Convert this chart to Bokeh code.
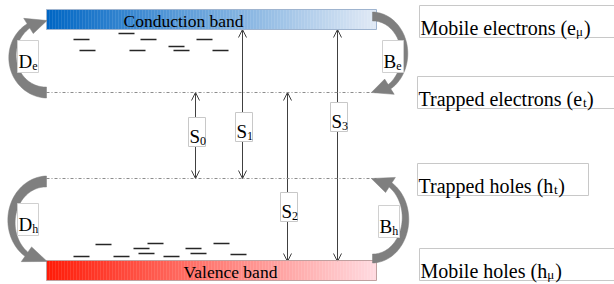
import numpy as np
from bokeh.plotting import figure
from bokeh.models import Range1d, Arrow, OpenHead
from bokeh.core.properties import value
from bokeh.embed import file_html
from bokeh.resources import INLINE

# ---------------- data (diagram coordinates in picture pixels) ----------------
band_x = [46, 376]
cond_band_y = [9, 29]
val_band_y = [260, 280]
trap_e_level = 92
trap_h_level = 178

e_trap_x = [73, 118, 140, 196, 79, 129, 168, 173, 212]
e_trap_y = [39, 33, 39, 39, 50, 50, 46, 50, 50]
h_trap_x = [73, 95, 113, 133, 147, 138, 163, 185, 190, 213, 230]
h_trap_y = [256, 244, 256, 248, 243, 253, 256, 248, 253, 243, 254]
trap_len = 16

s_names = ["0", "1", "2", "3"]
s_x = [195, 242, 287, 337]
s_from = [92, 29, 92, 29]
s_to = [178, 178, 261, 261]
s_box_top = [117, 112, 192, 102]

proc_main = ["D", "B", "D", "B"]
proc_sub = ["e", "e", "h", "h"]
proc_box_x = [17, 382, 17, 378]
proc_box_y = [40, 40, 203, 205]

state_main = ["Mobile electrons (e", "Trapped electrons (e", "Trapped holes (h", "Mobile holes (h"]
state_sub = ["\u03bc", "t", "t", "\u03bc"]
state_box_x = [419, 417, 417, 419]
state_box_y = [5, 76, 163, 248]
state_box_w = [200, 200, 171, 200]

FONT = value("Liberation Serif")
TDY = -6  # baseline correction for the text glyph
W = {'M': .889, 'o': .5, 'b': .5, 'i': .278, 'l': .278, 'e': .444, ' ': .25, 'c': .444,
     't': .278, 'r': .333, 'n': .5, 's': .389, '(': .333, ')': .333, 'T': .611, 'a': .444,
     'p': .5, 'd': .5, 'h': .5, 'D': .722, 'B': .667, 'S': .556, '\u03bc': .576,
     '0': .5, '1': .5, '2': .5, '3': .5}


def tw(s, size):
    return sum(W.get(c, .5) for c in s) * size


def lerp_colors(c0, c1, n):
    out = []
    for k in range(n):
        f = k / (n - 1)
        out.append("#%02x%02x%02x" % tuple(int(round(a + (b - a) * f)) for a, b in zip(c0, c1)))
    return out


p = figure(width=614, height=284, x_range=Range1d(0, 614), y_range=Range1d(284, 0),
           output_backend="svg", toolbar_location=None, min_border=0,
           x_axis_type=None, y_axis_type=None)
p.grid.visible = False
p.outline_line_color = None
p.background_fill_color = "white"
p.border_fill_color = "white"

# ---------------- bands with gradient ----------------
N = 110
edges = np.linspace(band_x[0], band_x[1], N + 1)
p.quad(left=edges[:-1], right=edges[1:] + 0.3, top=cond_band_y[0], bottom=cond_band_y[1],
       fill_color=lerp_colors((0, 102, 196), (224, 233, 245), N), line_color=None)
p.quad(left=edges[:-1], right=edges[1:] + 0.3, top=val_band_y[0], bottom=val_band_y[1],
       fill_color=lerp_colors((255, 28, 8), (255, 218, 224), N), line_color=None)
p.quad(left=[band_x[0]] * 2, right=[band_x[1]] * 2, top=[cond_band_y[0], val_band_y[0]],
       bottom=[cond_band_y[1], val_band_y[1]], fill_color=None,
       line_color=["#9fb4cf", "#c0a0a0"], line_width=1)

p.text(x=[183], y=[26 + TDY], text=["Conduction band"], text_font=FONT, text_font_size=value("17.5px"),
       text_align="center", text_baseline="alphabetic", text_color="black")
p.text(x=[230], y=[277 + TDY], text=["Valence band"], text_font=FONT, text_font_size=value("17.5px"),
       text_align="center", text_baseline="alphabetic", text_color="black")

# ---------------- trap levels ----------------
p.segment(x0=[band_x[0]] * 2, x1=[band_x[1]] * 2, y0=[trap_e_level, trap_h_level],
          y1=[trap_e_level, trap_h_level], line_color="#8c8c8c", line_width=1, line_dash="3 2 1 2")

p.segment(x0=e_trap_x + h_trap_x, x1=[x + trap_len for x in e_trap_x + h_trap_x],
          y0=e_trap_y + h_trap_y, y1=e_trap_y + h_trap_y, line_color="#262626", line_width=1.5)

# ---------------- transitions S0..S3 ----------------
for x, y0, y1 in zip(s_x, s_from, s_to):
    a = Arrow(x_start=x, y_start=y0, x_end=x, y_end=y1,
              start=OpenHead(size=8, line_color="#404040", line_width=1),
              end=OpenHead(size=8, line_color="#404040", line_width=1),
              line_color="#404040", line_width=1, level="underlay")
    p.add_layout(a)

s_bl = [x - 7 for x in s_x]
p.quad(left=s_bl, right=[x + 17 for x in s_bl], top=s_box_top, bottom=[t + 29 for t in s_box_top],
       fill_color="white", line_color="#c8c8c8", line_width=1)
p.text(x=[x + 1 for x in s_bl], y=[t + 25 + TDY for t in s_box_top], text=["S"] * 4, text_font=FONT,
       text_font_size=value("19px"), text_baseline="alphabetic", text_align="left", text_color="black")
p.text(x=[x + 1 + tw("S", 19) for x in s_bl], y=[t + 29 + TDY for t in s_box_top], text=s_names,
       text_font=FONT, text_font_size=value("12px"), text_baseline="alphabetic", text_align="left",
       text_color="black")


# ---------------- curved arrows (D_e, B_e, D_h, B_h) ----------------
def curved_arrow(cx, cy, rx, ry, t0, th, tt, w0, w1, hh):
    ts = np.radians(np.linspace(t0, th, 50))
    ws = np.linspace(w0, w1, 50)
    ox = cx + (rx + ws / 2) * np.cos(ts)
    oy = cy + (ry + ws / 2) * np.sin(ts)
    ix = cx + (rx - ws / 2) * np.cos(ts)
    iy = cy + (ry - ws / 2) * np.sin(ts)
    rh, rt = np.radians(th), np.radians(tt)
    hx = [cx + (rx + hh) * np.cos(rh), cx + rx * np.cos(rt), cx + (rx - hh) * np.cos(rh)]
    hy = [cy + (ry + hh) * np.sin(rh), cy + ry * np.sin(rt), cy + (ry - hh) * np.sin(rh)]
    return list(ox) + hx + list(ix[::-1]), list(oy) + hy + list(iy[::-1])


arcs = [
    (46, 56, 34, 36, 90, 238, 271, 11, 5, 9),
    (372, 54, 32, 38, -90, 58, 92, 9, 5, 9),
    (46, 221, 35, 40, -90, -235, -271, 11, 5, 9),
    (372, 218, 33, 40, 90, -57, -92, 9, 5, 9),
]
axs, ays = [], []
for a in arcs:
    xs, ys = curved_arrow(*a)
    axs.append(xs)
    ays.append(ys)
p.patches(xs=axs, ys=ays, fill_color="#7f7f7f", line_color="#7f7f7f", line_width=0.5)

p.quad(left=proc_box_x, right=[x + 21 for x in proc_box_x], top=proc_box_y,
       bottom=[y + 32 for y in proc_box_y], fill_color="white", line_color="#d0d0d0", line_width=1)
p.text(x=[x + 1 for x in proc_box_x], y=[y + 27 + TDY for y in proc_box_y], text=proc_main, text_font=FONT,
       text_font_size=value("19px"), text_baseline="alphabetic", text_align="left", text_color="black")
p.text(x=[x + 1 + tw(m, 19) for x, m in zip(proc_box_x, proc_main)], y=[y + 31 + TDY for y in proc_box_y],
       text=proc_sub, text_font=FONT, text_font_size=value("12px"), text_baseline="alphabetic",
       text_align="left", text_color="black")

# ---------------- state labels on the right ----------------
p.quad(left=state_box_x, right=[x + w for x, w in zip(state_box_x, state_box_w)], top=state_box_y,
       bottom=[y + 32 for y in state_box_y], fill_color="white", line_color="#c8c8c8", line_width=1)
main_size, sub_size = 20, 13
tx = [x + 1 for x in state_box_x]
ty = [y + 28 + TDY for y in state_box_y]
p.text(x=tx, y=ty, text=state_main, text_font=FONT, text_font_size=value("%dpx" % main_size),
       text_baseline="alphabetic", text_align="left", text_color="black")
sx = [x + tw(m, main_size) for x, m in zip(tx, state_main)]
p.text(x=sx, y=[y + 4 for y in ty], text=state_sub, text_font=FONT,
       text_font_size=value("%dpx" % sub_size), text_baseline="alphabetic", text_align="left",
       text_color="black")
cx_ = [x + tw(s, sub_size) + 0.5 for x, s in zip(sx, state_sub)]
p.text(x=cx_, y=ty, text=[")"] * 4, text_font=FONT, text_font_size=value("%dpx" % main_size),
       text_baseline="alphabetic", text_align="left", text_color="black")

open("out.html", "w").write(file_html(p, INLINE))
